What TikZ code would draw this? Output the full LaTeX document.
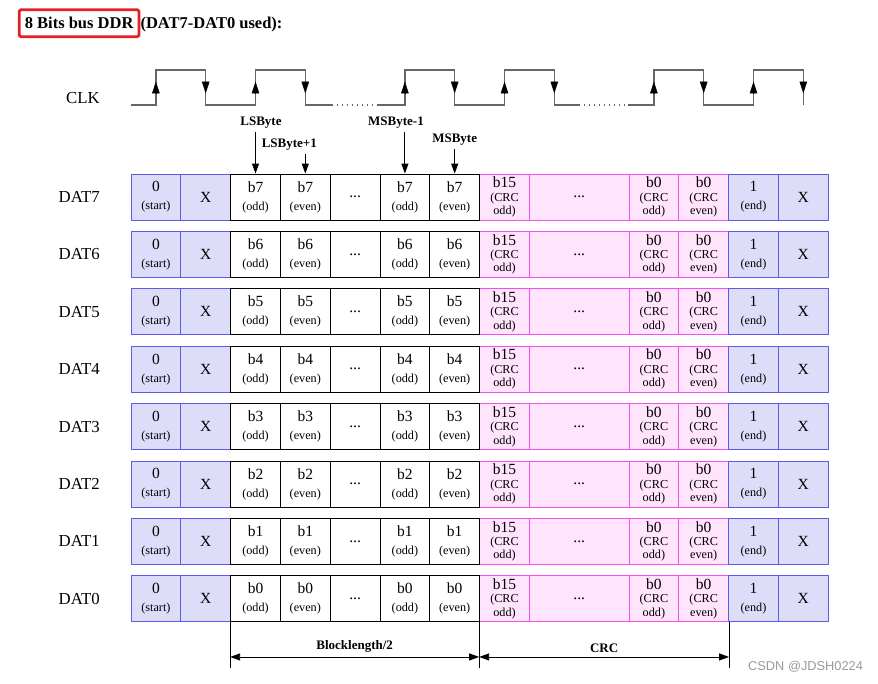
\documentclass[tikz,border=0pt]{standalone}
\usepackage{fontspec}
\setmainfont{Liberation Serif}
\newfontfamily\wmfont{Liberation Sans}
\usetikzlibrary{arrows.meta,positioning,calc}
\definecolor{ctlfill}{RGB}{221,221,250}
\definecolor{ctlline}{RGB}{90,90,235}
\definecolor{crcfill}{RGB}{255,228,252}
\definecolor{crcline}{RGB}{240,80,240}
\definecolor{hlred}{RGB}{230,30,40}
\newcommand\smtxt[1]{{\fontsize{12.2}{13}\selectfont #1}}
\begin{document}
\begin{tikzpicture}[x=1pt, y=-1pt, >={Triangle[length=10pt,width=7pt]},
    cellbase/.style={draw, line width=0.9pt, minimum width=49.8pt, minimum height=46pt, inner sep=0pt, align=center},
    ctl/.style={cellbase, draw=ctlline, fill=ctlfill, font=\fontsize{15.5}{18}\selectfont},
    dat/.style={cellbase, draw=black, fill=white, font=\fontsize{15.5}{18}\selectfont},
    crc/.style={cellbase, draw=crcline, fill=crcfill, font=\fontsize{15.5}{13.4}\selectfont},
    lbl/.style={font=\fontsize{16.8}{16.8}\selectfont, inner sep=0pt},
    bytelbl/.style={font=\bfseries\fontsize{13}{13}\selectfont},
    wave/.style={draw=black!60, line width=1.2pt},
    edgetip/.style={-{Triangle[length=11.6pt,width=7.5pt]}, black}]
  \useasboundingbox (0,0) rectangle (878,683);
  \node[draw=hlred, line width=2.8pt, rounded corners=1.5pt, inner xsep=5.5pt, minimum height=27pt,
        anchor=west, font=\bfseries\fontsize{16.5}{16.5}\selectfont] (hl) at (17.9,23.2) {8 Bits bus DDR};
  \node[anchor=base west, inner sep=0pt, font=\bfseries\fontsize{16.5}{16.5}\selectfont] (ttl) at (hl.base east) {(DAT7-DAT0 used):};

  \node[lbl, anchor=east] (clk) at (100,98) {CLK};
  \draw[wave] (131,105) -| (155.9,70) -| (205.7,105) -| (255.5,70) -| (305.3,105) -- (331.7,105);
  \draw[wave, dash pattern=on 1pt off 4pt] (331.7,105) -- (378,105);
  \draw[wave] (378,105) -| (404.9,70) -| (454.7,105) -| (504.5,70) -| (554.3,105) -- (579,105);
  \draw[wave, dash pattern=on 1pt off 4pt] (579,105) -- (628,105);
  \draw[wave] (628,105) -| (653.9,70) -| (703.7,105) -| (753.5,70) -| (803.3,105);
  \foreach \x in {155.9,255.5,404.9,504.5,653.9,753.5}
    \path[draw, edgetip] (\x,93.3) -- (\x,81.7);
  \foreach \x in {205.7,305.3,454.7,554.3,703.7,803.3}
    \path[draw, edgetip] (\x,81.7) -- (\x,93.3);

  \foreach \b [count=\r from 0] in {7,...,0} {
    \pgfmathsetmacro\yy{197+57.4*\r}
    \node[lbl, anchor=east] (lab\b) at (100,\yy) {DAT\b};
    \node[ctl] (d\b-0) at (155.9,\yy) {0\\\smtxt{(start)}};
    \node[ctl] (d\b-1) at (205.7,\yy) {X};
    \node[crc] (d\b-7) at (504.5,\yy) {b15\\\smtxt{(CRC}\\\smtxt{odd)}};
    \node[crc, minimum width=99.6pt] (d\b-8) at (579.2,\yy) {...};
    \node[crc] (d\b-10) at (653.9,\yy) {b0\\\smtxt{(CRC}\\\smtxt{odd)}};
    \node[crc] (d\b-11) at (703.7,\yy) {b0\\\smtxt{(CRC}\\\smtxt{even)}};
    \node[ctl] (d\b-12) at (753.5,\yy) {1\\\smtxt{(end)}};
    \node[ctl] (d\b-13) at (803.3,\yy) {X};
    \node[dat] (d\b-2) at (255.5,\yy) {b\b\\\smtxt{(odd)}};
    \node[dat] (d\b-3) at (305.3,\yy) {b\b\\\smtxt{(even)}};
    \node[dat] (d\b-4) at (355.1,\yy) {...};
    \node[dat] (d\b-5) at (404.9,\yy) {b\b\\\smtxt{(odd)}};
    \node[dat] (d\b-6) at (454.7,\yy) {b\b\\\smtxt{(even)}};
  }

  \node[bytelbl] (lsb) at (261,123) {LSByte};
  \node[bytelbl] (lsb1) at (289.3,145) {LSByte+1};
  \node[bytelbl] (msb1) at (396,123) {MSByte-1};
  \node[bytelbl] (msb) at (454.7,140) {MSByte};
  \draw[->, line width=1pt] (lsb.south -| d7-2.north) -- (d7-2.north);
  \draw[->, line width=1pt] (lsb1.south -| d7-3.north) -- (d7-3.north);
  \draw[->, line width=1pt] (msb1.south -| d7-5.north) -- (d7-5.north);
  \draw[->, line width=1pt] (msb.south -| d7-6.north) -- (d7-6.north);

  \draw[line width=0.9pt] (d0-2.south west) -- ++(0,46) coordinate (e1);
  \draw[line width=0.9pt] (d0-7.south west) -- ++(0,46) coordinate (e2);
  \draw[line width=0.9pt] (d0-11.south east) -- ++(0,46) coordinate (e3);
  \draw[<->, line width=0.9pt] ($(e1)+(0,-11.3)$) -- ($(e2)+(0,-11.3)$) node[bytelbl, midway, above=1pt] (blk) {Blocklength/2};
  \draw[<->, line width=0.9pt] ($(e2)+(0,-11.3)$) -- ($(e3)+(0,-11.3)$) node[bytelbl, midway, above=1pt] (crclen) {CRC};

  \node[font=\wmfont\fontsize{12.8}{12.8}\selectfont, text=black!40, anchor=west, inner sep=0pt] (wm) at (748,667) {CSDN @JDSH0224};
\end{tikzpicture}
\end{document}
